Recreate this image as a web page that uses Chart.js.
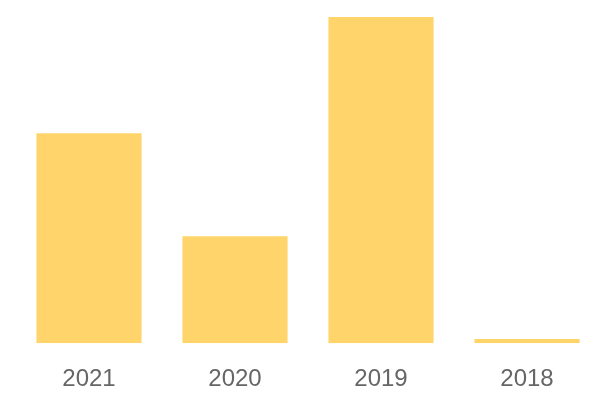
<!DOCTYPE html>
<html>
<head>
<meta charset="utf-8">
<script src="https://cdn.jsdelivr.net/npm/chart.js@4/dist/chart.umd.min.js"></script>
<style>
    html, body { margin: 0; padding: 0; background: #fff; }
    #wrap { width: 600px; height: 400px; }
</style>
</head>
<body>
<div id="wrap"><canvas id="chart"></canvas></div>
<script>
// data (relative units, 2019 = 100)
const years = ['2021', '2020', '2019', '2018'];
const values = [64.4, 32.8, 100, 1.3];

const barColor = '#FFD56B';

window.addEventListener('load', () => {
    new Chart(document.getElementById('chart'), {
        type: 'bar',
        data: {
            labels: years,
            datasets: [{
                data: values,
                backgroundColor: barColor,
                borderWidth: 0
            }]
        },
        options: {
            responsive: true,
            maintainAspectRatio: false,
            animation: false,
            layout: {
                padding: { left: 16, right: 0, top: 17, bottom: -8 }
            },
            plugins: {
                legend: { display: false },
                tooltip: { enabled: false }
            },
            scales: {
                x: {
                    grid: { display: false },
                    border: { display: false },
                    ticks: {
                        color: '#666',
                        padding: 14,
                        font: { family: 'Liberation Sans', size: 24 }
                    }
                },
                y: {
                    display: false,
                    min: 0,
                    max: 100
                }
            }
        }
    });
});
</script>
</body>
</html>
